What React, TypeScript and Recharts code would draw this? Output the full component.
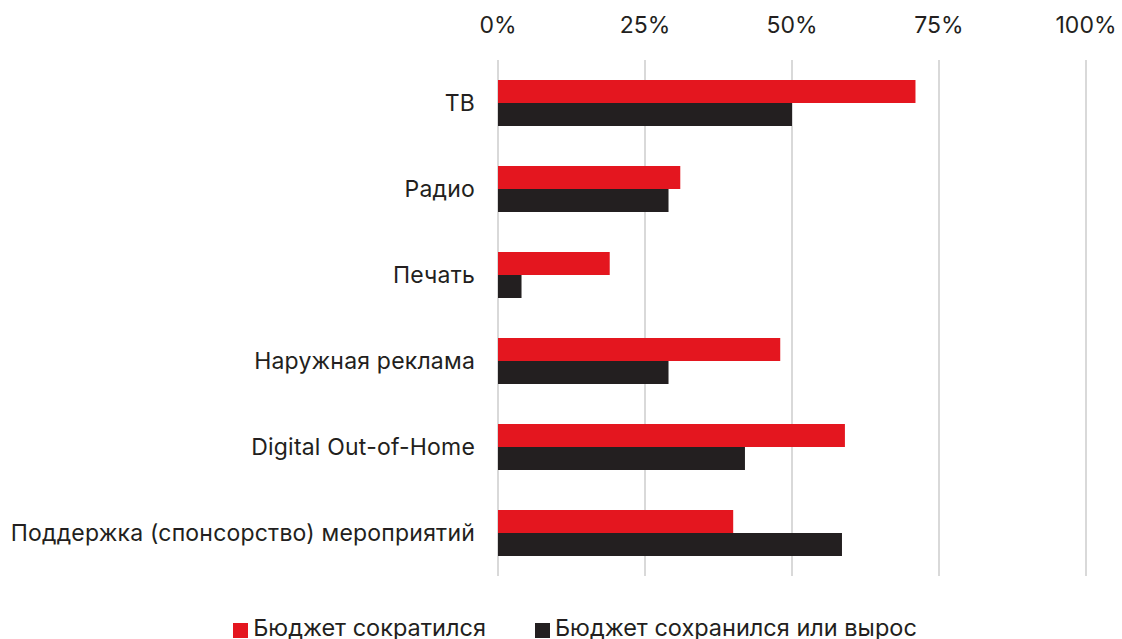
import React from 'react';
import { BarChart, Bar, XAxis, YAxis, CartesianGrid } from 'recharts';

const categories = [
  'ТВ',
  'Радио',
  'Печать',
  'Наружная реклама',
  'Digital Out-of-Home',
  'Поддержка (спонсорство) мероприятий',
];
const cutValues = [71, 31, 19, 48, 59, 40];
const keptValues = [50, 29, 4, 29, 42, 58.5];
const xTicks = [0, 25, 50, 75, 100];
const seriesNames = ['Бюджет сократился', 'Бюджет сохранился или вырос'];

const RED = '#e4161f';
const BLACK = '#231f20';
const FONT = 'Inter, "Noto Sans", sans-serif';

const data = categories.map((name, i) => ({
  name,
  cut: cutValues[i],
  kept: keptValues[i],
}));

export default function App() {
  return (
    <div style={{ position: 'absolute', left: 0, top: 0, width: 1122, height: 639, background: '#fff', fontFamily: FONT }}>
      <BarChart
        width={1122}
        height={639}
        data={data}
        layout="vertical"
        margin={{ top: 0, right: 36, bottom: 63, left: 0 }}
        barCategoryGap={20}
        barGap={0}
      >
        <CartesianGrid horizontal={false} stroke="#d9d9d9" strokeWidth={2} />
        <XAxis
          type="number"
          orientation="top"
          domain={[0, 100]}
          ticks={xTicks}
          tickFormatter={(v) => `${v}%`}
          height={60}
          axisLine={false}
          tickLine={false}
          tickMargin={21}
          tick={{ fill: BLACK, fontSize: 23, fontFamily: FONT }}
        />
        <YAxis
          type="category"
          dataKey="name"
          width={498}
          axisLine={false}
          tickLine={false}
          tickMargin={17}
          tick={{ fill: BLACK, fontSize: 23, fontFamily: FONT, letterSpacing: 0.2 }}
        />
        <Bar dataKey="cut" fill={RED} barSize={23} isAnimationActive={false} />
        <Bar dataKey="kept" fill={BLACK} barSize={23} isAnimationActive={false} />
      </BarChart>
      <div
        style={{
          position: 'absolute',
          top: 613,
          left: 28,
          width: 1094,
          display: 'flex',
          justifyContent: 'center',
          gap: 49,
          fontSize: 23.5,
          color: BLACK,
          lineHeight: '30px',
        }}
      >
        {seriesNames.map((s, i) => (
          <div key={s} style={{ display: 'flex', alignItems: 'center' }}>
            <span style={{ display: 'inline-block', width: 15, height: 15, background: i === 0 ? RED : BLACK, marginRight: 5, marginTop: 4 }} />
            <span>{s}</span>
          </div>
        ))}
      </div>
    </div>
  );
}
